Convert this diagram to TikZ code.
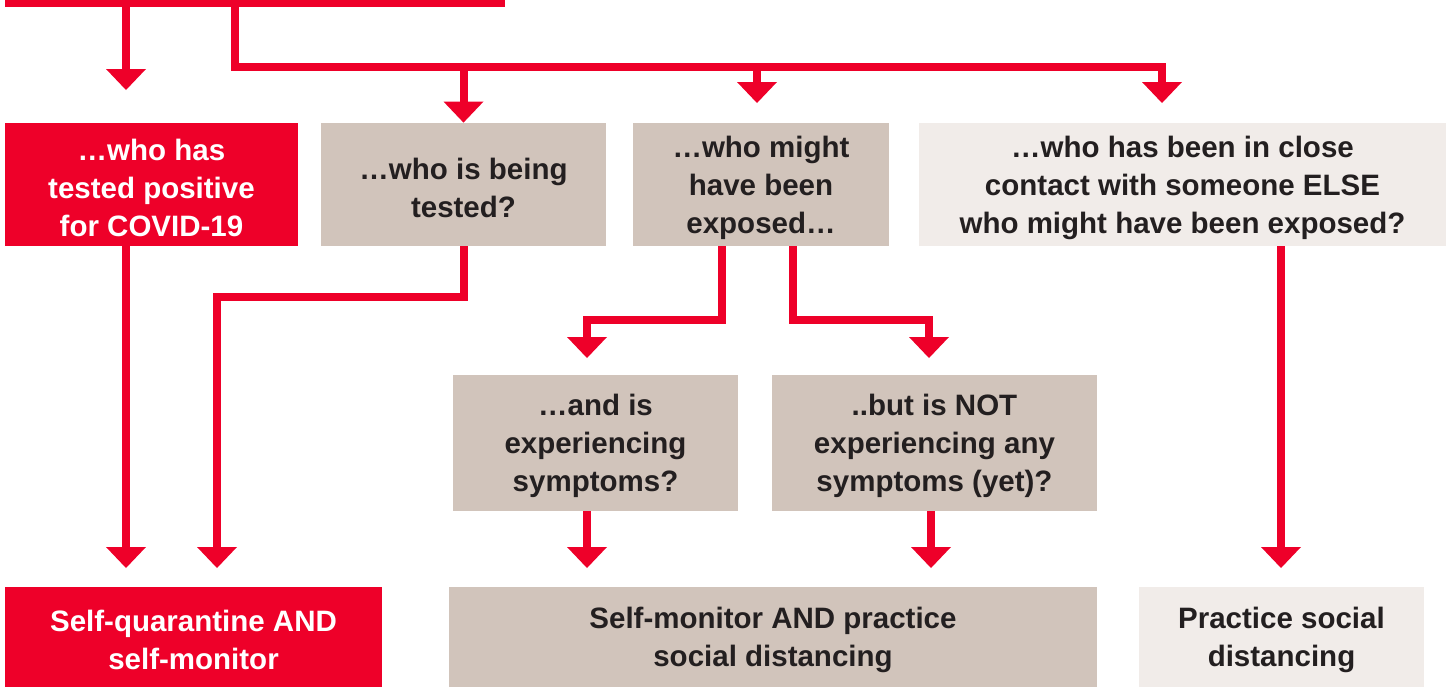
\documentclass[tikz,border=0pt]{standalone}
\usepackage{fontspec}
\setmainfont{Liberation Sans}
\usetikzlibrary{arrows.meta}

\definecolor{alertred}{HTML}{EE0029}
\definecolor{tan}{HTML}{D1C4BB}
\definecolor{pale}{HTML}{F1ECE9}
\definecolor{ink}{HTML}{231F20}

% pushes the text block a little down in its box
\newcommand{\topgap}{\rule{0pt}{13.8pt}}

\tikzset{
	box/.style={rectangle, inner sep=0pt, align=center, text=ink,
		font=\bfseries\fontsize{14.75}{19}\selectfont},
	redbox/.style={box, fill=alertred, text=white},
	tanbox/.style={box, fill=tan},
	palebox/.style={box, fill=pale},
	arr/.style={draw=alertred, line width=4pt, line join=miter,
		-{Triangle[width=20pt,length=10.5pt,line width=0pt]}},
}

\begin{document}
\begin{tikzpicture}[x=0.5pt,y=-0.5pt]
	\useasboundingbox (0,0) rectangle (1447,687);

	% top box, cut off
	\fill[alertred] (5,0) rectangle (505,7);
	\coordinate (start) at (255,3.5);

	\node[redbox, minimum width=146.5pt, minimum height=61.5pt] (A) at (151.5,184.5) {\topgap\dots who has\\tested positive\\for COVID-19};
	\node[tanbox, minimum width=142.5pt, minimum height=61.5pt] (B) at (463.5,184.5) {\topgap\dots who is being\\tested?};
	\node[tanbox, minimum width=128pt, minimum height=61.5pt] (C) at (761,184.5) {\topgap\dots who might\\have been\\exposed\dots};
	\node[palebox, minimum width=263.5pt, minimum height=61.5pt] (D) at (1182.5,184.5) {\topgap\dots who has been in close\\contact with someone ELSE\\who might have been exposed?};

	\node[tanbox, minimum width=142.5pt, minimum height=68pt] (F) at (595.5,443) {\topgap\dots and is\\experiencing\\symptoms?};
	\node[tanbox, minimum width=162.5pt, minimum height=68pt] (G) at (934.5,443) {\topgap..but is NOT\\experiencing any\\symptoms (yet)?};

	\node[redbox, minimum width=188.5pt, minimum height=50pt] (E) at (193.5,637) {\topgap Self-quarantine AND\\self-monitor};
	\node[tanbox, minimum width=324pt, minimum height=50pt] (H) at (773,637) {\topgap Self-monitor AND practice\\social distancing};
	\node[palebox, minimum width=142.5pt, minimum height=50pt] (I) at (1281.5,637) {\topgap Practice social\\distancing};

	% bends and free ends
	\coordinate (aIn) at (126,90);
	\coordinate (bus) at (235,67);
	\coordinate (cIn) at (757,103);
	\coordinate (dIn) at (1162,103);
	\coordinate (bKnee) at (463.5,297);
	\coordinate (eInA) at (126,568);
	\coordinate (eInB) at (217,568);
	\coordinate (cKneeL) at (722,320);
	\coordinate (cKneeR) at (793,320);
	\coordinate (fIn) at (587,358);
	\coordinate (gIn) at (929,358);
	\coordinate (hInF) at (587,568);
	\coordinate (hInG) at (931,568);
	\coordinate (iIn) at (1281,568);

	\draw[arr] (start -| aIn) -- (aIn);
	\draw[arr] (start -| bus) -- (bus) -- (bus -| dIn) -- (dIn);
	\draw[arr] (bus -| B) -- (B.north);
	\draw[arr] (bus -| cIn) -- (cIn);

	\draw[arr] (A.south -| eInA) -- (eInA);
	\draw[arr] (B.south) -- (bKnee) -- (bKnee -| eInB) -- (eInB);
	\draw[arr] (C.south -| cKneeL) -- (cKneeL) -- (cKneeL -| fIn) -- (fIn);
	\draw[arr] (C.south -| cKneeR) -- (cKneeR) -- (cKneeR -| gIn) -- (gIn);
	\draw[arr] (F.south -| hInF) -- (hInF);
	\draw[arr] (G.south -| hInG) -- (hInG);
	\draw[arr] (D.south -| iIn) -- (iIn);
\end{tikzpicture}
\end{document}
